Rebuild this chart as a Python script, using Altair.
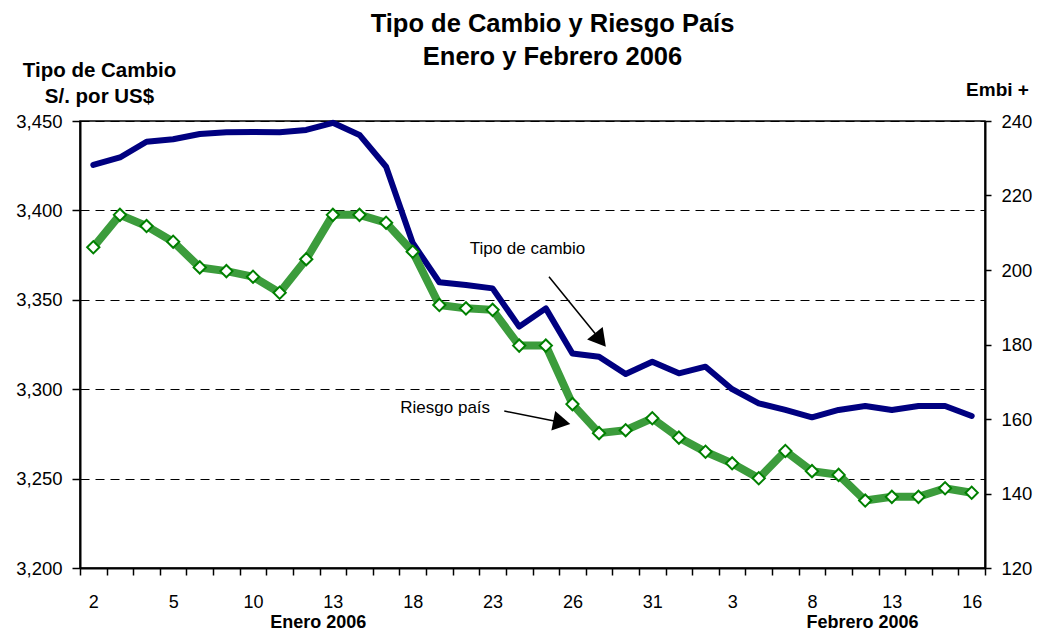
import json
import altair as alt
import pandas as pd

# ---------------- data ----------------
fechas = ["2", "3", "4", "5", "6", "9", "10", "11", "12", "13", "16", "17", "18", "19",
          "20", "23", "24", "25", "26", "27", "30", "31", "1", "2", "3", "6", "7", "8",
          "9", "10", "13", "14", "15", "16"]
tipo_cambio = [3425.4, 3429.6, 3438.4, 3439.8, 3442.7, 3443.7, 3443.8, 3443.7, 3445.0,
               3449.0, 3442.2, 3424.4, 3381.8, 3359.8, 3358.3, 3356.4, 3335.0, 3345.2,
               3320.0, 3318.2, 3308.5, 3315.4, 3308.9, 3312.6, 3300.0, 3292.1, 3288.4,
               3284.3, 3288.4, 3290.6, 3288.4, 3290.6, 3290.6, 3285.0]
embi = [206.1, 214.8, 211.8, 207.6, 200.7, 199.7, 198.2, 193.9, 202.9, 214.8, 214.8,
        212.7, 204.9, 190.6, 189.7, 189.3, 179.7, 179.7, 164.0, 156.2, 157.0, 160.2,
        155.0, 151.2, 148.1, 144.1, 151.4, 146.0, 145.0, 138.1, 139.1, 139.1, 141.4, 140.2]

ticks_tc = [3200, 3250, 3300, 3350, 3400, 3450]
ticks_embi = [120, 140, 160, 180, 200, 220, 240]
label_every = 3

meses = ["Enero 2006", "Febrero 2006"]
meses_x = [8.45, 28.9]
meses_y = [3169.3, 3169.3]

anot_texto = ["Tipo de cambio", "Riesgo país"]
anot_x = [16.31, 13.22]
anot_y = [3378.4, 3289.5]
flecha_x = [17.12, 15.44]
flecha_y = [3362.9, 3287.8]
flecha_x2 = [19.05, 17.60]
flecha_y2 = [3327.5, 3281.4]
flecha_ang = [141, 101]

titulo = ["Tipo de Cambio y Riesgo País", "Enero y Febrero 2006"]

# ---------------- layout / style ----------------
W, H = 905, 447
FONT = "Liberation Sans"
n = len(fechas)

df = pd.DataFrame({"idx": list(range(n)), "fecha": fechas, "tc": tipo_cambio, "embi": embi})
df_anot = pd.DataFrame({"ax": anot_x, "ay": anot_y, "texto": anot_texto})
df_fl = pd.DataFrame({"fx": flecha_x, "fy": flecha_y, "fx2": flecha_x2, "fy2": flecha_y2,
                      "ang": flecha_ang})
df_mes = pd.DataFrame({"mx": meses_x, "my": meses_y, "mes": meses})

bounds = [i - 0.5 for i in range(n + 1)]
labels_arr = [fechas[k] if (k < n and k % label_every == 0) else "" for k in range(n + 1)]
label_expr = json.dumps(labels_arr) + "[round(datum.value + 0.5)]"

x_scale = alt.Scale(domain=[-0.5, n - 0.5], nice=False, zero=False)
x_axis = alt.Axis(values=bounds, labelExpr=label_expr, labelOffset=W / n / 2, title=None,
                  grid=False, tickSize=7, tickColor="black", tickWidth=1.5,
                  domainColor="black", domainWidth=2, labelFontSize=18, labelFont=FONT,
                  labelColor="black", labelPadding=18, labelOverlap=False,
                  labelFlush=False, labelBound=False)

yl_scale = alt.Scale(domain=[ticks_tc[0], ticks_tc[-1]], nice=False, zero=False)
yl_axis = alt.Axis(values=ticks_tc, labelExpr="format(datum.value, ',.0f')", orient="left",
                   title=["Tipo de Cambio", "S/. por US$"], titleAngle=0, titleAlign="center",
                   titleBaseline="alphabetic", titleX=19, titleY=-45, titleLineHeight=26,
                   titleFontSize=20.5, titleFont=FONT, titleFontWeight="bold",
                   titleColor="black",
                   grid=True, gridDash=[9, 6], gridColor="black", gridWidth=1, gridOpacity=1,
                   tickSize=8, tickColor="black", tickWidth=1.5, domainColor="black",
                   domainWidth=2, labelFontSize=18.5, labelPadding=10, labelColor="black",
                   labelFont=FONT)

yr_scale = alt.Scale(domain=[ticks_embi[0], ticks_embi[-1]], nice=False, zero=False)
yr_axis = alt.Axis(values=ticks_embi, orient="right", title="Embi +", titleAngle=0,
                   titleAlign="center", titleBaseline="alphabetic", titleX=12, titleY=-26,
                   titleFontSize=19, titleFont=FONT, titleFontWeight="bold",
                   titleColor="black", grid=False, tickSize=6, tickColor="black",
                   tickWidth=1.5, domainColor="black", domainWidth=2, labelFontSize=18.5,
                   labelPadding=10, labelColor="black", labelFont=FONT)


def xl(field):
    return alt.X(field, scale=x_scale, axis=x_axis)


def yl(field):
    return alt.Y(field, scale=yl_scale, axis=yl_axis)


blue = alt.Chart(df).mark_line(color="#000080", strokeWidth=6, strokeJoin="round",
                               strokeCap="round").encode(x=xl("idx:Q"), y=yl("tc:Q"))

shafts = alt.Chart(df_fl).mark_rule(color="black", strokeWidth=1.5).encode(
    x=xl("fx:Q"), y=yl("fy:Q"), x2="fx2:Q", y2="fy2:Q")

heads = alt.Chart(df_fl).mark_point(shape="triangle-up", filled=True, color="black",
                                    size=400, opacity=1).encode(
    x=xl("fx2:Q"), y=yl("fy2:Q"), angle=alt.Angle("ang:Q", scale=None))

anot = alt.Chart(df_anot).mark_text(font=FONT, fontSize=17, color="black", align="center",
                                    baseline="middle").encode(
    x=xl("ax:Q"), y=yl("ay:Q"), text="texto:N")

mes_txt = alt.Chart(df_mes).mark_text(font=FONT, fontSize=18, fontWeight="bold",
                                      color="black", align="center",
                                      baseline="middle").encode(
    x=xl("mx:Q"), y=yl("my:Q"), text="mes:N")

left = alt.layer(blue, shafts, heads, anot, mes_txt)

green_base = alt.Chart(df).encode(x=xl("idx:Q"),
                                  y=alt.Y("embi:Q", scale=yr_scale, axis=yr_axis))
green_line = green_base.mark_line(color="#3c9c3c", strokeWidth=8)
green_pts = green_base.mark_point(shape="diamond", filled=True, fill="white",
                                  stroke="#008000", strokeWidth=2, size=150, opacity=1,
                                  fillOpacity=1)
right = alt.layer(green_line, green_pts)

chart = alt.layer(left, right).resolve_scale(y="independent").properties(
    width=W, height=H,
    title=alt.TitleParams(titulo, font=FONT, fontSize=25.5, fontWeight="bold", color="black",
                          anchor="middle", dx=20, dy=10, offset=0, lineHeight=33),
    autosize=alt.AutoSizeParams(type="none"),
    padding={"left": 72, "top": 113, "right": 49, "bottom": 63},
    background="white",
).configure_view(stroke="black", strokeWidth=1.5)

chart.save("out.html", embed_options={"renderer": "svg", "actions": False})
